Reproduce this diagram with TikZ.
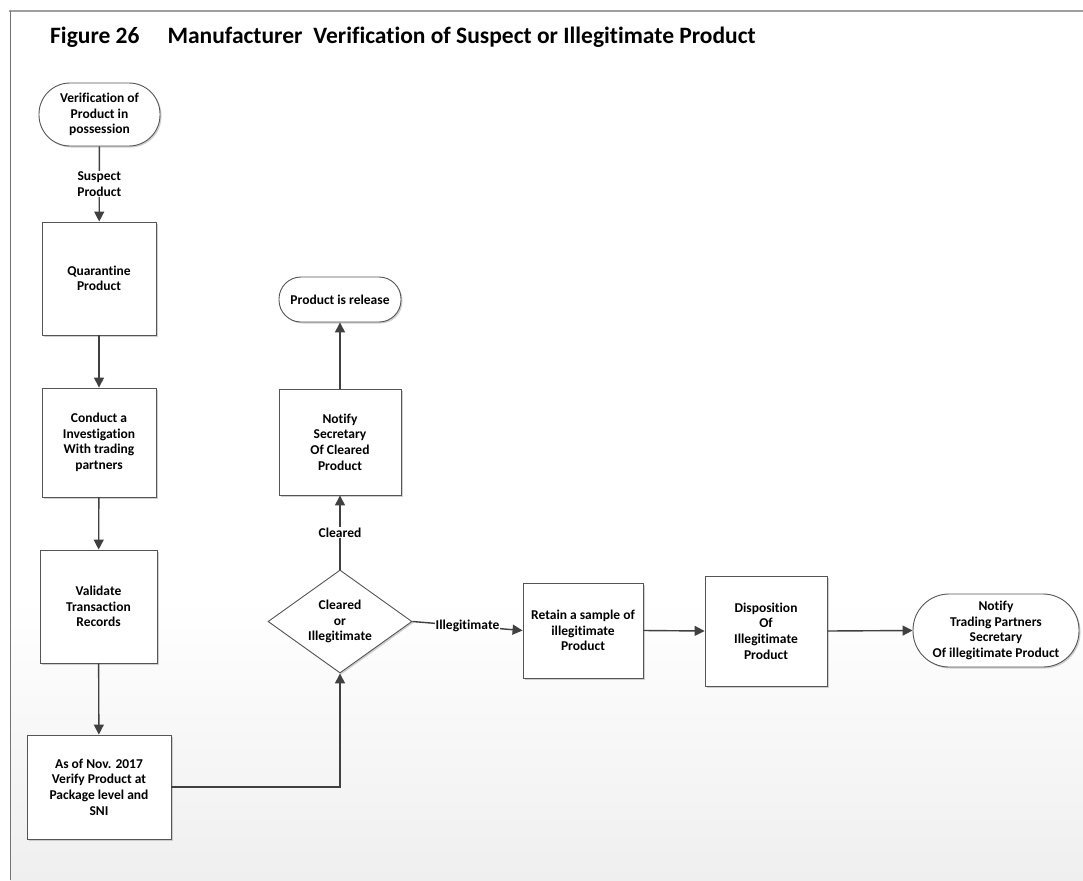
\documentclass[tikz,border=0pt]{standalone}
\usepackage{fontspec}
\setmainfont{Carlito}[Ligatures=NoCommon]
\usetikzlibrary{arrows.meta,shapes.geometric,shadows}
\definecolor{linec}{HTML}{404040}
\definecolor{borderc}{HTML}{555555}
\definecolor{framec}{HTML}{A0A0A0}
\definecolor{bgbot}{HTML}{EFEFEF}
\tikzset{
  x=1pt,y=-1pt,
  boxshadow/.style={drop shadow={shadow xshift=1.5pt,shadow yshift=-1.5pt,fill=black!30,opacity=0.6}},
  procbox/.style={rectangle,draw=borderc,line width=0.9pt,fill=white,boxshadow,inner sep=0pt,
    align=center,font=\fontsize{13.5}{15.6}\selectfont\bfseries},
  termbox/.style={procbox,rounded corners=#1},
  decbox/.style={diamond,draw=borderc,line width=0.9pt,fill=white,boxshadow,inner sep=0pt},
  lbl/.style={fill=white,inner sep=1pt,align=center,font=\fontsize{13.5}{15.6}\selectfont\bfseries},
  conn/.style={draw=linec,line width=1.4pt,-{Triangle[length=10pt,width=10pt]}},
}
\begin{document}
\begin{tikzpicture}
\useasboundingbox (0,0) rectangle (1083,880);
\fill[white] (0,0) rectangle (1083,880);
\shade[top color=white,bottom color=bgbot] (10,600) rectangle (1083,880);
\draw[framec,line width=2pt] (9,11) -- (1083,11);
\draw[black!55,line width=0.9pt] (10,11) -- (10,880);
\node[anchor=base west,font=\fontsize{23.5}{27}\selectfont\bfseries,inner sep=0pt] (title) at (50,44)
  {Figure 26\hspace{28pt}Manufacturer\hspace{11pt}Verification of Suspect or Illegitimate Product};

\node[termbox=31pt,minimum width=121pt,minimum height=63pt] (start) at (99.5,114.5) {Verification of\\Product in\\possession};
\node[procbox,minimum width=114pt,minimum height=113pt] (quar) at (99,278.5) {Quarantine\\Product};
\node[procbox,minimum width=114pt,minimum height=109pt] (cond) at (99,442.5) {Conduct a\\Investigation\\With trading\\partners};
\node[procbox,minimum width=117pt,minimum height=113pt] (valid) at (98.5,606.5) {Validate\\Transaction\\Records};
\node[procbox,minimum width=144pt,minimum height=104pt] (asof) at (99,787) {As of Nov. 2017\\Verify Product at\\Package level and\\SNI};
\node[decbox,minimum width=144pt,minimum height=103pt] (dec) at (340,621.5) {};
\node[lbl,fill=none] (dectext) at (dec.center) {Cleared\\or\\Illegitimate};
\node[procbox,minimum width=122pt,minimum height=106pt] (notify) at (340,442) {Notify\\Secretary\\Of Cleared\\Product};
\node[termbox=22pt,minimum width=122pt,minimum height=45pt] (release) at (340,299.5) {Product is release};
\node[procbox,minimum width=120pt,minimum height=95pt] (retain) at (583,630.5) {Retain a sample of\\illegitimate\\Product};
\node[procbox,minimum width=122pt,minimum height=110pt] (disp) at (766,631) {Disposition\\Of\\Illegitimate\\Product};
\node[termbox=36pt,minimum width=166pt,minimum height=73pt] (final) at (996,630.5) {Notify\\Trading Partners\\Secretary\\Of illegitimate Product};

\draw[conn] (start) -- node[lbl] {Suspect\\Product} (quar);
\draw[conn] (quar) -- (cond);
\draw[conn] (cond) -- (valid);
\draw[conn] (valid) -- (asof);
\draw[conn] (asof.east) -| (dec.south);
\draw[conn] (dec.north) -- node[lbl] {Cleared} (notify.south);
\draw[conn] (notify.north) -- (release.south);
\draw[conn] (dec.east) -- node[lbl,inner sep=0.5pt] {Illegitimate} (retain.west);
\draw[conn] (retain.east) -- (disp.west);
\draw[conn] (disp.east) -- (final.west);
\end{tikzpicture}
\end{document}
